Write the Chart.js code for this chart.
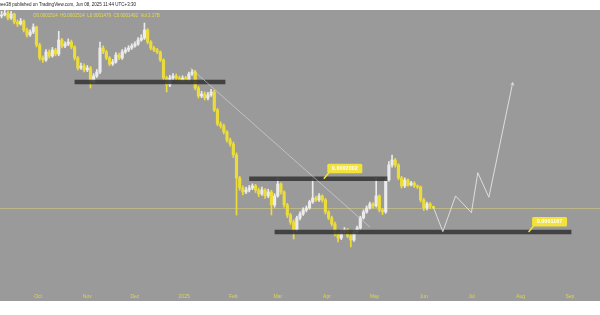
<!DOCTYPE html>
<html>
<head>
<meta charset="utf-8">
<script src="https://cdn.jsdelivr.net/npm/chart.js@4.4.1/dist/chart.umd.min.js"></script>
<style>
  html, body { margin: 0; padding: 0; background: #fff; }
  #wrap { width: 600px; height: 315px; }
</style>
</head>
<body>
<div id="wrap"><canvas id="chart" width="600" height="315"></canvas></div>
<script>
// prices are in units of 0.0000001, one candle every 2 days from startDate
const startDate = '2024-09-08';
const stepDays = 2;

const open = [10400,10506,10721,10191,10612,9786,9590,9885,9024,8579,8844,9303,7753,6797,6660,7223,6936,7370,7077,8155,
  7675,7831,7992,7597,6797,6142,6268,6019,6142,5330,5664,5899,7521,7223,6797,6396,6527,7007,6797,7223,
  7370,7521,7675,7831,8155,8322,9024,7992,7521,7370,7223,6660,5551,5171,5551,5664,5551,5439,5551,5439,
  5780,5899,5016,4626,4720,4533,4673,4817,4014,3483,3413,3212,2962,2844,2545,2016,1822,1750,1786,1822,
  1860,1786,1715,1786,1681,1750,1534,1681,1898,1750,1534,1386,1292,1191,1345,1400,1458,1488,1582,1647,
  1614,1681,1614,1429,1345,1266,1144,1098,1167,1191,1121,1076,1167,1215,1345,1429,1488,1550,1519,1681,
  1458,1429,1976,2300,2419,2300,2016,1860,1976,1879,1917,1860,1841,1614,1488,1550,1514];
const high = [10900,11050,10950,10900,10700,9990,10150,10000,9200,9050,9600,9400,7900,6950,7400,7380,7560,7500,8900,8300,
  8000,8250,8150,7700,6900,6450,6400,6300,6250,5800,6050,7992,7680,7350,6900,6700,7180,7150,7400,7550,
  7700,7850,8000,8350,8600,9684,9150,8100,7650,7500,7300,6750,5650,5700,5800,5780,5650,5680,5650,5900,
  6050,6000,5100,4850,4820,4800,4950,4900,4080,3560,3480,3260,3020,2900,2600,2050,1860,1840,1870,1900,
  1890,1820,1840,1810,1800,1780,1720,2016,1920,1770,1560,1410,1320,1370,1430,1490,1520,1610,2016,1680,
  1720,1700,1640,1450,1370,1290,1170,1190,1220,1210,1140,1190,1240,1370,1460,1520,1580,1570,2016,1700,
  1480,2010,2380,2545,2460,2330,2050,2020,2000,1950,1940,1880,1860,1640,1580,1570,1514];
const low = [10200,10400,9990,10050,9600,9350,9480,8850,8400,8450,8700,7600,6650,6500,6560,6800,6850,6950,6950,7520,
  7550,7700,7450,6650,6020,6050,5900,5920,5016,5250,5580,5800,7100,6680,6280,6300,6450,6680,6700,7120,
  7250,7420,7580,7720,8050,8200,7850,7380,7250,7100,6550,5450,4817,5080,5450,5450,5330,5350,5330,5350,
  5700,4920,4530,4550,4440,4450,4600,3950,3420,3340,3150,2900,2780,2480,1386,1780,1700,1720,1750,1790,
  1740,1670,1690,1640,1650,1386,1500,1660,1710,1500,1350,1260,1087,1170,1320,1380,1430,1470,1560,1590,
  1590,1580,1400,1320,1240,1120,1054,1080,1145,1100,1003,1060,1150,1200,1330,1410,1470,1490,1500,1430,
  1390,1410,1950,2250,2250,1980,1820,1830,1850,1860,1830,1810,1580,1450,1460,1480,1479];
const close = [10506,10721,10191,10612,9786,9590,9885,9024,8579,8844,9303,7753,6797,6660,7223,6936,7370,7077,8155,7675,
  7831,7992,7597,6797,6142,6268,6019,6142,5330,5664,5899,7521,7223,6797,6396,6527,7007,6797,7223,7370,
  7521,7675,7831,8155,8322,9024,7992,7521,7370,7223,6660,5551,5171,5551,5664,5551,5439,5551,5439,5780,
  5899,5016,4626,4720,4533,4673,4817,4014,3483,3413,3212,2962,2844,2545,2016,1822,1750,1786,1822,1860,
  1786,1715,1786,1681,1750,1534,1681,1898,1750,1534,1386,1292,1191,1345,1400,1458,1488,1582,1647,1614,
  1681,1614,1429,1345,1266,1144,1098,1167,1191,1121,1076,1167,1215,1345,1429,1488,1550,1519,1681,1458,
  1429,1976,2300,2419,2300,2016,1860,1976,1879,1917,1860,1841,1614,1488,1550,1514,1492];

const monthTickDates = ['2024-10-01','2024-11-01','2024-12-01','2025-01-01','2025-02-01','2025-03-01',
  '2025-04-01','2025-05-01','2025-06-01','2025-07-01','2025-08-01','2025-09-01'];
const monthTickLabels = ['Oct','Nov','Dec','2025','Feb','Mar','Apr','May','Jun','Jul','Aug','Sep'];

// drawn support/resistance zones
const zoneFrom = ['2024-10-24','2025-02-11','2025-02-27'];
const zoneTo = ['2025-01-27','2025-05-09','2025-09-02'];
const zonePrice = [5330, 2002, 1167];

const trendDates = ['2025-01-05','2025-04-28'];
const trendPrices = [6142, 1227];

const pathDates = ['2025-06-07','2025-06-13','2025-06-21','2025-07-01','2025-07-05','2025-07-12','2025-07-27'];
const pathPrices = [1500, 1171, 1681, 1419, 2127, 1659, 5293];

const tagDates = ['2025-03-30','2025-08-06'];
const tagPrices = [2002, 1167];
const tagTexts = ['0.0002002','0.0001167'];

const headerText = 'bee38 published on TradingView.com, Jun 08, 2025 11:44 UTC+3:30';
const legendText = 'O0.0001514  H0.0001514  L0.0001479  C0.0001492  Vol.3.17B';

const UP = '#ebebeb';
const DOWN = '#ecdc3a';

const day0 = Date.parse('2024-10-01');
const toDay = d => (Date.parse(d) - day0) / 86400000;
const first = toDay(startDate);
const candleDays = close.map((c, i) => first + i * stepDays);
const colors = close.map((c, i) => c >= open[i] ? UP : DOWN);

const datasets = [];
datasets.push({
  type: 'bar', order: 3, grouped: false, barThickness: 1,
  data: candleDays.map((d, i) => ({x: d, y: [low[i], high[i]]})),
  backgroundColor: colors
});
datasets.push({
  type: 'bar', order: 2, grouped: false, barThickness: 2.5,
  data: candleDays.map((d, i) => ({x: d, y: [open[i], close[i]]})),
  backgroundColor: colors
});
zonePrice.forEach((p, i) => {
  datasets.push({
    type: 'line', order: 1,
    data: [{x: toDay(zoneFrom[i]), y: p}, {x: toDay(zoneTo[i]), y: p}],
    borderColor: 'rgba(50,50,50,0.85)', borderWidth: 4.5, borderCapStyle: 'butt',
    pointRadius: 0
  });
});
datasets.push({
  type: 'line', order: 0,
  data: trendDates.map((d, i) => ({x: toDay(d), y: trendPrices[i]})),
  borderColor: 'rgba(225,225,225,0.7)', borderWidth: 0.8, pointRadius: 0
});
datasets.push({
  type: 'line', order: 0,
  data: pathDates.map((d, i) => ({x: toDay(d), y: pathPrices[i]})),
  borderColor: 'rgba(228,228,228,0.9)', borderWidth: 1, pointRadius: 0, tension: 0
});

const decor = {
  id: 'decor',
  beforeDraw(chart) {
    const ctx = chart.ctx;
    ctx.save();
    ctx.fillStyle = '#ffffff';
    ctx.fillRect(0, 0, chart.width, chart.height);
    ctx.fillStyle = '#9a9a9a';
    ctx.fillRect(0, 10, chart.width, 291);
    ctx.fillStyle = '#222';
    ctx.font = '4.5px "Liberation Sans"';
    ctx.textBaseline = 'middle';
    ctx.fillText(headerText, -1.5, 5);
    // last price line
    const y = Math.round(chart.scales.y.getPixelForValue(close[close.length - 1])) + 0.5;
    ctx.strokeStyle = 'rgba(222,212,120,0.5)';
    ctx.lineWidth = 1;
    ctx.beginPath();
    ctx.moveTo(0, y);
    ctx.lineTo(chart.width, y);
    ctx.stroke();
    ctx.restore();
  },
  afterDatasetsDraw(chart) {
    const ctx = chart.ctx;
    const xs = chart.scales.x, ys = chart.scales.y;
    ctx.save();
    // arrow head at the end of the projected path
    const n = pathDates.length;
    const x1 = xs.getPixelForValue(toDay(pathDates[n - 1])), y1 = ys.getPixelForValue(pathPrices[n - 1]);
    const x0 = xs.getPixelForValue(toDay(pathDates[n - 2])), y0 = ys.getPixelForValue(pathPrices[n - 2]);
    const a = Math.atan2(y1 - y0, x1 - x0);
    ctx.strokeStyle = 'rgba(228,228,228,0.9)';
    ctx.lineWidth = 1;
    ctx.beginPath();
    ctx.moveTo(x1 - 3 * Math.cos(a - 0.6), y1 - 3 * Math.sin(a - 0.6));
    ctx.lineTo(x1, y1);
    ctx.lineTo(x1 - 3 * Math.cos(a + 0.6), y1 - 3 * Math.sin(a + 0.6));
    ctx.stroke();
    // price tags
    tagDates.forEach((d, i) => {
      const x = xs.getPixelForValue(toDay(d));
      const y = ys.getPixelForValue(tagPrices[i]);
      ctx.strokeStyle = '#f2e23a';
      ctx.lineWidth = 1.5;
      ctx.beginPath();
      ctx.moveTo(x, y);
      ctx.lineTo(x + 5, y - 6);
      ctx.stroke();
      ctx.fillStyle = '#f2e23a';
      ctx.beginPath();
      ctx.roundRect(x + 3.5, y - 15, 35, 9.5, 1.5);
      ctx.fill();
      ctx.fillStyle = '#ffffff';
      ctx.font = 'bold 5.5px "Liberation Sans"';
      ctx.textAlign = 'center';
      ctx.textBaseline = 'middle';
      ctx.fillText(tagTexts[i], x + 21, y - 10.2);
    });
    // symbol legend
    ctx.fillStyle = '#e9dc48';
    ctx.font = '4.5px "Liberation Sans"';
    ctx.textAlign = 'left';
    ctx.textBaseline = 'middle';
    ctx.fillText(legendText, 33, 16);
    ctx.restore();
  }
};

new Chart(document.getElementById('chart'), {
  type: 'bar',
  data: {datasets},
  options: {
    responsive: false,
    animation: false,
    devicePixelRatio: 1,
    layout: {padding: {top: 10, bottom: 14, left: 0, right: 0}},
    plugins: {legend: {display: false}, tooltip: {enabled: false}},
    scales: {
      x: {
        type: 'linear',
        offset: false,
        min: toDay('2024-09-07'),
        max: toDay('2025-09-20'),
        grid: {display: false, drawTicks: false, offset: false},
        border: {display: false},
        afterFit: s => { s.height = 12; },
        afterBuildTicks: s => { s.ticks = monthTickDates.map(d => ({value: toDay(d)})); },
        ticks: {
          autoSkip: false, maxRotation: 0, padding: 5,
          color: '#e2d44c', font: {size: 5, family: 'Liberation Sans'},
          callback: (v, i) => monthTickLabels[i]
        }
      },
      y: {
        type: 'logarithmic',
        display: false,
        min: 655,
        max: 11050
      }
    }
  },
  plugins: [decor]
});
</script>
</body>
</html>
